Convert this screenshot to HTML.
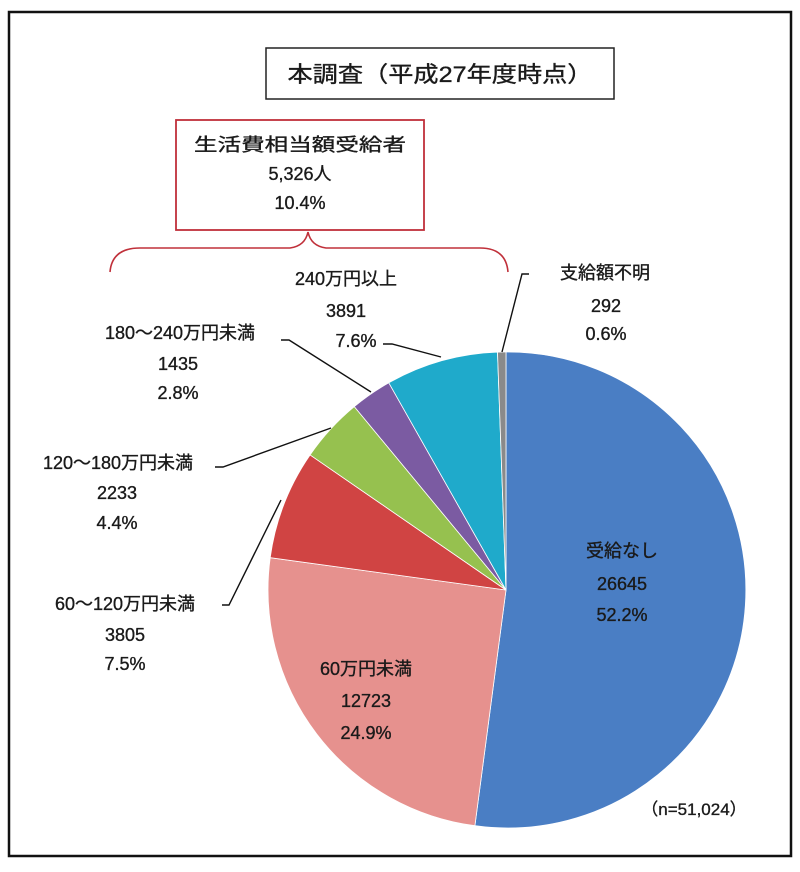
<!DOCTYPE html>
<html><head><meta charset="utf-8"><style>
html,body{margin:0;padding:0;background:#fff;}
svg text{font-family:"Liberation Sans","Noto Sans CJK JP",sans-serif;fill:#1a1a1a;stroke:#1a1a1a;stroke-width:0.35;}
</style></head><body>
<svg width="800" height="867" viewBox="0 0 800 867" xmlns="http://www.w3.org/2000/svg">
<rect x="0" y="0" width="800" height="867" fill="#fff"/>
<rect x="9" y="12" width="782" height="844" fill="none" stroke="#111" stroke-width="2.5"/>
<rect x="266" y="48" width="348" height="51" fill="#fff" stroke="#222" stroke-width="1.5"/>
<text x="440" y="82" font-size="22" text-anchor="middle" textLength="305" lengthAdjust="spacingAndGlyphs">本調査（平成27年度時点）</text>
<rect x="176" y="120" width="248" height="110" fill="#fff" stroke="#c0303a" stroke-width="1.8"/>
<g font-size="18" text-anchor="middle">
<text x="300" y="151" textLength="212" lengthAdjust="spacingAndGlyphs">生活費相当額受給者</text>
<text x="300" y="180">5,326人</text>
<text x="300" y="209">10.4%</text>
</g>
<path d="M110 272 Q112 248 140 248 L290 248 Q305 246 308 232 Q311 246 326 248 L480 248 Q506 248 508 272" fill="none" stroke="#c0303a" stroke-width="1.6"/>
<g stroke="#fff" stroke-width="0.8">
<path d="M506 590 L506 352 A238 238 0 1 1 474.9 825.7 Z" fill="#4A7EC4"/>
<path d="M506 590 L474.9 825.7 A238 238 0 0 1 270.2 557.7 Z" fill="#E6918E"/>
<path d="M506 590 L270.2 557.7 A238 238 0 0 1 310.1 454.9 Z" fill="#D04443"/>
<path d="M506 590 L310.1 454.9 A238 238 0 0 1 354.3 406.6 Z" fill="#96C14F"/>
<path d="M506 590 L354.3 406.6 A238 238 0 0 1 388.8 382.8 Z" fill="#7B5BA2"/>
<path d="M506 590 L388.8 382.8 A238 238 0 0 1 497.5 352.1 Z" fill="#1FAACB"/>
<path d="M506 590 L497.5 352.1 A238 238 0 0 1 506 352 Z" fill="#8A8A8A"/>
</g>
<g fill="none" stroke="#111" stroke-width="1.4">
<polyline points="502,352 522,274 529,274"/>
<polyline points="383,344 392,344 441,357"/>
<polyline points="281,340 289,340 371,392"/>
<polyline points="215,467 223,467 331,428"/>
<polyline points="222,605 229,605 281,500"/>
</g>
<g font-size="18" text-anchor="middle">
<text x="346" y="285">240万円以上</text><text x="346" y="317">3891</text><text x="356" y="347">7.6%</text>
<text x="605" y="279">支給額不明</text><text x="606" y="312">292</text><text x="606" y="340">0.6%</text>
<text x="180" y="339">180～240万円未満</text><text x="178" y="370">1435</text><text x="178" y="399">2.8%</text>
<text x="118" y="469">120～180万円未満</text><text x="117" y="499">2233</text><text x="117" y="529">4.4%</text>
<text x="125" y="610">60～120万円未満</text><text x="125" y="641">3805</text><text x="125" y="670">7.5%</text>
<text x="622" y="557">受給なし</text><text x="622" y="590">26645</text><text x="622" y="621">52.2%</text>
<text x="366" y="675">60万円未満</text><text x="366" y="707">12723</text><text x="366" y="739">24.9%</text>
<text x="694" y="815" font-size="17">（n=51,024）</text>
</g>
</svg>
</body></html>
